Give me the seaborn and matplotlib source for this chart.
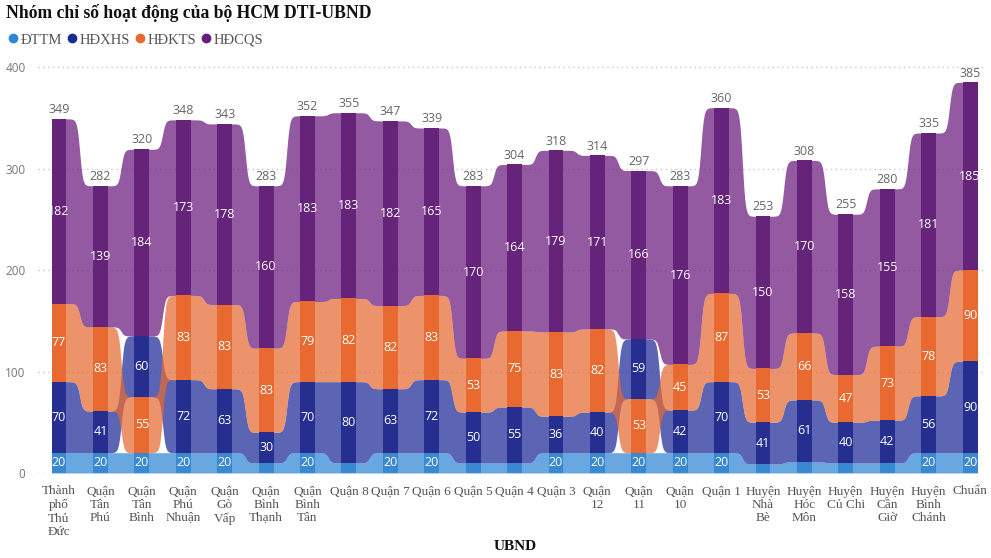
import numpy as np
import pandas as pd
import matplotlib.pyplot as plt
import seaborn as sns
from matplotlib.lines import Line2D

# Dữ liệu
ubnd = ["Thành\nphố\nThủ\nĐức", "Quận\nTân\nPhú", "Quận\nTân\nBình", "Quận\nPhú\nNhuận",
        "Quận\nGò\nVấp", "Quận\nBình\nThạnh", "Quận\nBình\nTân", "Quận 8", "Quận 7",
        "Quận 6", "Quận 5", "Quận 4", "Quận 3", "Quận\n12", "Quận\n11", "Quận\n10",
        "Quận 1", "Huyện\nNhà\nBè", "Huyện\nHóc\nMôn", "Huyện\nCủ Chi", "Huyện\nCần\nGiờ",
        "Huyện\nBình\nChánh", "Chuẩn"]
series = ["ĐTTM", "HĐXHS", "HĐKTS", "HĐCQS"]
dttm = [20, 20, 20, 20, 20, 10, 20, 10, 20, 20, 10, 10, 20, 20, 20, 20, 20, 9, 11, 10, 10, 20, 20]
hdxhs = [70, 41, 60, 72, 63, 30, 70, 80, 63, 72, 50, 55, 36, 40, 59, 42, 70, 41, 61, 40, 42, 56, 90]
hdkts = [77, 83, 55, 83, 83, 83, 79, 82, 82, 83, 53, 75, 83, 82, 53, 45, 87, 53, 66, 47, 73, 78, 90]
hdcqs = [182, 139, 184, 173, 178, 160, 183, 183, 182, 165, 170, 164, 179, 171, 166, 176, 183,
         150, 170, 158, 155, 181, 185]
totals = [349, 282, 320, 348, 343, 283, 352, 355, 347, 339, 283, 304, 318, 314, 297, 283, 360,
          253, 308, 255, 280, 335, 385]

colors = ["#2f86d6", "#1c2a96", "#e66a32", "#6a1a7e"]
bar_colors = ["#3a88d0", "#262f8f", "#e86a30", "#65237a"]

sns.set_style("white")
serif = "Liberation Serif"
sans = "Open Sans"

values = np.array([dttm, hdxhs, hdkts, hdcqs], dtype=float)
n = values.shape[1]

# ribbon: xếp hạng theo giá trị trong từng cột (nhỏ nhất ở dưới)
bottoms = np.zeros_like(values)
ranks = np.zeros_like(values, dtype=int)
for i in range(n):
    order = sorted(range(4), key=lambda s: (values[s, i], s))
    acc = 0
    for r, s in enumerate(order):
        bottoms[s, i] = acc
        ranks[s, i] = r
        acc += values[s, i]
tops = bottoms + values

fig = plt.figure(figsize=(9.91, 5.58), dpi=100)
ax = fig.add_axes([38 / 991, 85 / 558, 947 / 991, 411 / 558])

hw = 0.18
k = 9.0
tt = np.linspace(0, 1, 60)[1:-1]
sig = 0.5 + 0.5 * np.tanh(k * (tt - 0.5)) / np.tanh(k * 0.5)

for s in range(4):
    xs, lo, hi = [], [], []
    for i in range(n):
        xs += [i - hw, i + hw]
        lo += [bottoms[s, i]] * 2
        hi += [tops[s, i]] * 2
        if i < n - 1:
            xs += list(i + hw + tt * (1 - 2 * hw))
            lo += list(bottoms[s, i] + (bottoms[s, i + 1] - bottoms[s, i]) * sig)
            hi += list(tops[s, i] + (tops[s, i + 1] - tops[s, i]) * sig)
    ax.fill_between(xs, lo, hi, color=colors[s], alpha=0.72, lw=0, zorder=1)

# cột: vẽ từ hạng cao nhất xuống
for r in range(3, -1, -1):
    rows = []
    for i in range(n):
        s = [q for q in range(4) if ranks[q, i] == r][0]
        rows.append({"ubnd": ubnd[i], "top": tops[s, i], "series": series[s]})
    df = pd.DataFrame(rows)
    sns.barplot(data=df, x="ubnd", y="top", hue="series", hue_order=series, order=ubnd,
                palette=dict(zip(series, bar_colors)), dodge=False, width=0.36,
                errorbar=None, legend=False, saturation=1, linewidth=0, zorder=2, ax=ax)

for s in range(4):
    for i in range(n):
        v = values[s, i]
        if v >= 15:
            ax.text(i, bottoms[s, i] + v / 2, f"{int(v)}", ha="center", va="center",
                    color="white", fontsize=9, family=sans, zorder=3)

for i in range(n):
    ax.annotate(str(totals[i]), (i, tops[:, i].max()), xytext=(0, 2),
                textcoords="offset points", ha="center", va="bottom",
                color="#666666", fontsize=9, family=sans, zorder=3)

ax.set_xlim(-0.507, 22.36)
ax.set_ylim(0, 405)
ax.set_yticks([0, 100, 200, 300, 400])
ax.set_yticklabels(["0", "100", "200", "300", "400"], color="#777777", fontsize=8.5, family=sans)
ax.set_xticks(range(n))
ax.set_xticklabels(ubnd, color="#555555", fontsize=9.5, family=serif, linespacing=1.15)
ax.tick_params(axis="x", length=0, pad=9)
ax.tick_params(axis="y", length=0, pad=9)
ax.set_xlabel("")
ax.set_ylabel("")
ax.grid(axis="y", linestyle=(0, (1, 2.5)), color="#c8c8c8", linewidth=1)
ax.set_axisbelow(True)
for sp in ax.spines.values():
    sp.set_visible(False)

fig.text(0.006, 1 - 12.5 / 558, "Nhóm chỉ số hoạt động của bộ HCM DTI-UBND",
         fontsize=12.7, fontweight="bold", family=serif, va="center", color="#111111")
fig.text(515 / 991, 1 - 546 / 558, "UBND", fontsize=11, fontweight="bold", family=serif,
         ha="center", va="center", color="#111111")

handles = [Line2D([], [], marker="o", ls="", color=c, markersize=6) for c in colors]
leg = fig.legend(handles, series, loc="center left", bbox_to_anchor=(-0.006, 1 - 40 / 558),
                 ncol=4, frameon=False, handletextpad=0.1, columnspacing=0.3,
                 handlelength=0.8, prop={"family": serif, "size": 10.5})
for t in leg.get_texts():
    t.set_color("#555555")

fig.savefig("out.png", dpi=100)
